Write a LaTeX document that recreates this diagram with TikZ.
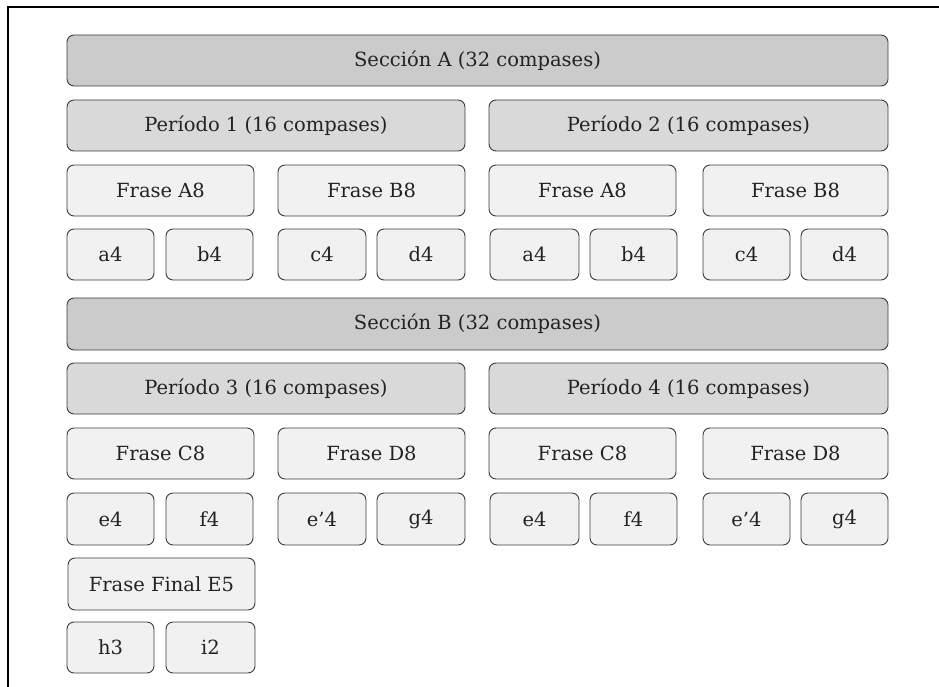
\documentclass[tikz,border=0pt]{standalone}
\usepackage{fontspec}
\setmainfont{DejaVu Serif}
\definecolor{secfill}{HTML}{CBCBCB}
\definecolor{perfill}{HTML}{D9D9D9}
\definecolor{frfill}{HTML}{F1F1F1}
\definecolor{bordergray}{HTML}{3C3C3C}
\definecolor{textgray}{HTML}{222222}
\newcommand\mybox[7]{%
  \node[#6, minimum width={#4pt-#2pt}, minimum height={#5pt-#3pt}] (#1) at (#2,#3) {#7};}
\begin{document}
\begin{tikzpicture}[x=1pt,y=-1pt,
  box/.style={draw=bordergray, line width=0.9pt, rounded corners=7pt,
    inner sep=0pt, outer sep=0pt, anchor=north west, text=textgray,
    font=\fontsize{19.5}{22}\selectfont},
  secbox/.style={box, fill=secfill},
  perbox/.style={box, fill=perfill},
  frbox/.style={box, fill=frfill},
  frame/.style={line width=1.6pt, draw=black}]
\useasboundingbox (0,0) rectangle (939,687);
\coordinate (fbl) at (8,687);
\coordinate (ftl) at (8,7);
\coordinate (ftr) at (939,7);
\draw[frame] (fbl) -- (ftl) -- (ftr);
% Section A
\mybox{secA}{67}{35}{888}{86}{secbox}{Sección A (32 compases)}
\mybox{per1}{67}{100}{465}{151}{perbox}{Período 1 (16 compases)}
\mybox{per2}{489}{100}{888}{151}{perbox}{Período 2 (16 compases)}
\mybox{fA1}{67}{165}{254}{216}{frbox}{Frase A8}
\mybox{fB1}{278}{165}{465}{216}{frbox}{Frase B8}
\mybox{fA2}{489}{165}{676}{216}{frbox}{Frase A8}
\mybox{fB2}{703}{165}{888}{216}{frbox}{Frase B8}
\mybox{a1}{67}{229}{154}{280}{frbox}{a4}
\mybox{b1}{166}{229}{253}{280}{frbox}{b4}
\mybox{c1}{278}{229}{366}{280}{frbox}{c4}
\mybox{d1}{377}{229}{465}{280}{frbox}{d4}
\mybox{a2}{490}{229}{579}{280}{frbox}{a4}
\mybox{b2}{590}{229}{677}{280}{frbox}{b4}
\mybox{c2}{703}{229}{790}{280}{frbox}{c4}
\mybox{d2}{801}{229}{888}{280}{frbox}{d4}
% Section B
\mybox{secB}{67}{298}{888}{350}{secbox}{Sección B (32 compases)}
\mybox{per3}{67}{363}{465}{414}{perbox}{Período 3 (16 compases)}
\mybox{per4}{489}{363}{888}{414}{perbox}{Período 4 (16 compases)}
\mybox{fC1}{67}{428}{254}{479}{frbox}{Frase C8}
\mybox{fD1}{278}{428}{465}{479}{frbox}{Frase D8}
\mybox{fC2}{489}{428}{676}{479}{frbox}{Frase C8}
\mybox{fD2}{703}{428}{888}{479}{frbox}{Frase D8}
\mybox{e1}{67}{493}{154}{545}{frbox}{e4}
\mybox{f1}{166}{493}{253}{545}{frbox}{f4}
\mybox{ep1}{278}{493}{366}{545}{frbox}{e’4}
\mybox{g1}{377}{493}{465}{545}{frbox}{g4}
\mybox{e2}{490}{493}{579}{545}{frbox}{e4}
\mybox{f2}{590}{493}{677}{545}{frbox}{f4}
\mybox{ep2}{703}{493}{790}{545}{frbox}{e’4}
\mybox{g2}{801}{493}{888}{545}{frbox}{g4}
% Final
\mybox{fE}{68}{558}{255}{610}{frbox}{Frase Final E5}
\mybox{h1}{67}{622}{154}{673}{frbox}{h3}
\mybox{i1}{166}{622}{255}{673}{frbox}{i2}
\end{tikzpicture}
\end{document}
